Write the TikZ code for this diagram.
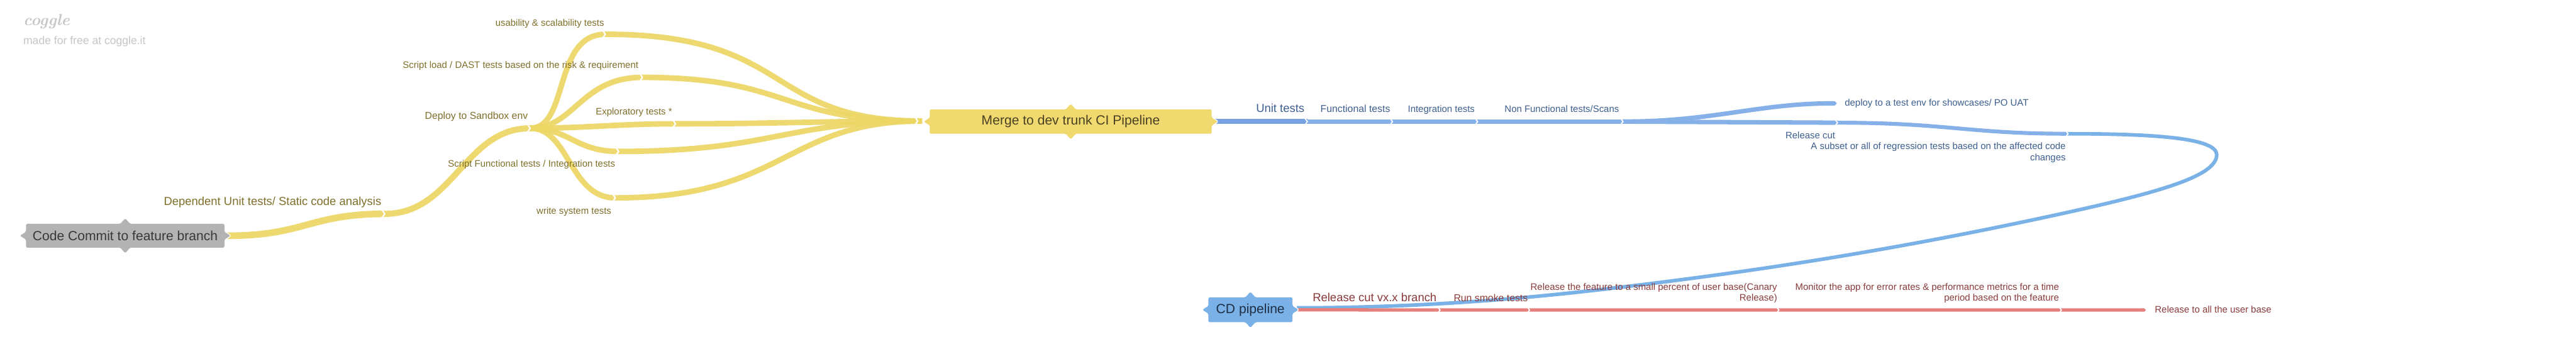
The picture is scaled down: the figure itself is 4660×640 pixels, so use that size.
\documentclass[tikz,border=0pt]{standalone}
\usepackage{fontspec}
\setsansfont{Liberation Sans}
\renewcommand{\familydefault}{\sfdefault}
\usetikzlibrary{backgrounds,arrows.meta}
\definecolor{ybr}{HTML}{ECD664}
\definecolor{yfill}{HTML}{F0D96F}
\definecolor{ytext}{HTML}{7F6F2A}
\definecolor{mgtext}{HTML}{4A4222}
\definecolor{ccfill}{HTML}{B3B3B3}
\definecolor{cctext}{HTML}{383838}
\definecolor{bbr}{HTML}{86B0E8}
\definecolor{bbrd}{HTML}{78A3E2}
\definecolor{bfill}{HTML}{7AB1E6}
\definecolor{btext}{HTML}{3D5E8E}
\definecolor{cdtext}{HTML}{1F2F45}
\definecolor{rbr}{HTML}{E6807C}
\definecolor{rtext}{HTML}{8A3A3A}
\definecolor{logogrey}{HTML}{C6C6C6}
\newcommand{\rootshape}[2]{%
  \path[fill=#2, rounded corners=2pt, preaction={draw=white, line width=3pt}]
   (#1.north west) -- ([xshift=-9pt]#1.north) -- ([yshift=10pt]#1.north) -- ([xshift=9pt]#1.north)
   -- (#1.north east) -- ([yshift=7pt]#1.east) -- ([xshift=11pt]#1.east) -- ([yshift=-7pt]#1.east)
   -- (#1.south east) -- ([xshift=9pt]#1.south) -- ([yshift=-10pt]#1.south) -- ([xshift=-9pt]#1.south)
   -- (#1.south west) -- ([yshift=-7pt]#1.west) -- ([xshift=-11pt]#1.west) -- ([yshift=7pt]#1.west) -- cycle;}
\begin{document}
\begin{tikzpicture}[x=1pt, y=-1pt,
  yb/.style={draw=ybr, line width=#1, draw opacity=0.92},
  bb/.style={draw=bbr, line width=#1},
  rb/.style={draw=rbr, line width=6pt},
  rootbox/.style={rectangle, inner sep=0pt, outer sep=0pt, font=\fontsize{24}{28}\selectfont},
  lab/.style={inner sep=0pt, font=\fontsize{17}{20}\selectfont},
  big/.style={font=\fontsize{21}{25}\selectfont},
  mid/.style={font=\fontsize{18}{21}\selectfont},
  chev/.pic={\draw[white, line width=2.5pt, line join=miter] (-5,-7.5) -- (0,0) -- (-5,7.5);},
  chevs/.pic={\draw[white, line width=2pt, line join=miter] (-4,-5.5) -- (0,0) -- (-4,5.5);}
]
\useasboundingbox (0,0) rectangle (4660,640);

% root nodes (text; shapes drawn on background layer)
\node[rootbox, minimum width=359pt, minimum height=43pt, text=cctext] (cc) at (226.5,426.5) {Code Commit to feature branch};
\node[rootbox, minimum width=510pt, minimum height=44pt, text=mgtext] (mg) at (1937,220) {Merge to dev trunk CI Pipeline};
\node[rootbox, minimum width=152pt, minimum height=45pt, text=cdtext] (cd) at (2262,560.5) {CD pipeline};

% junction coordinates
\coordinate (j1) at (696,387);
\coordinate (j2) at (959,232);
\coordinate (lu) at (1095,62);
\coordinate (ls) at (1162,140);
\coordinate (le) at (1222,224);
\coordinate (lf) at (1119,274);
\coordinate (lw) at (1113,358);
\coordinate (mi) at (1668,219);
\coordinate (mc) at (1660,219);
\coordinate (b1) at (2365,220);
\coordinate (b2) at (2519,220);
\coordinate (b3) at (2673,220);
\coordinate (b4) at (2936,220);
\coordinate (bd) at (3323,187);
\coordinate (br) at (3324,222);
\coordinate (bs) at (3741,242);
\coordinate (lp1) at (4010,280);
\coordinate (lp2) at (3700,393);
\coordinate (lp3) at (2921,521);
\coordinate (cdin) at ([shift={(8pt,3.5pt)}]cd.east);
\coordinate (r1) at (2605,561);
\coordinate (r2) at (2767,561);
\coordinate (r3) at (3218,561);
\coordinate (r4) at (3729,561);
\coordinate (r5) at (3882,561);

\begin{scope}[on background layer]
\fill[white] (0,0) rectangle (4660,640);
% yellow branches
\draw[yb=12pt] ([xshift=4pt]cc.east) .. controls (550,427) and (560,387) .. (j1);
\draw[yb=11pt] (j1) .. controls (820,387) and (840,232) .. (j2);
\draw[yb=10pt] (j2) .. controls (1030,232) and (1000,62) .. (lu);
\draw[yb=10pt] (j2) .. controls (1040,232) and (1050,140) .. (ls);
\draw[yb=10pt] (j2) .. controls (1060,232) and (1120,224) .. (le);
\draw[yb=10pt] (j2) .. controls (1030,232) and (1040,274) .. (lf);
\draw[yb=10pt] (j2) .. controls (1030,232) and (1030,358) .. (lw);
\draw[yb=10pt] (lu) .. controls (1440,62) and (1380,219) .. (mi);
\draw[yb=10pt] (ls) .. controls (1430,140) and (1410,219) .. (mi);
\draw[yb=10pt] (le) .. controls (1400,224) and (1500,219) .. (mi);
\draw[yb=10pt] (lf) .. controls (1400,274) and (1420,219) .. (mi);
\draw[yb=10pt] (lw) .. controls (1420,358) and (1420,219) .. (mi);
% blue branches
\draw[bb=9pt, draw=bbrd] ([xshift=4pt]mg.east) -- (b1);
\draw[bb=8pt] (b1) -- (b2) -- (b3) -- (b4);
\draw[bb=8pt, -{Triangle Cap}] (b4) .. controls (3100,220) and (3180,187) .. (bd);
\draw[bb=8pt] (b4) -- (br);
\draw[bb=7pt] (br) .. controls (3520,222) and (3560,242) .. (bs);
\draw[bb=6.5pt, draw=bfill] (bs) .. controls (3900,242) and (4010,250) .. (lp1)
   .. controls (4010,320) and (3900,350) .. (lp2)
   .. controls (3400,457.5) and (3150,494) .. (lp3)
   .. controls (2750,541.5) and (2560,557) .. (cdin);
% red branches
\draw[rb, -{Triangle Cap}] ([xshift=4pt]cd.east) -- (r1) -- (r2) -- (r3) -- (r4) -- (r5);
% chevrons
\foreach \p in {j1,j2,lu,ls,le,lf,lw,mc} \pic at (\p) {chev};
\foreach \p in {b1,b2,b3,b4,br,bs,r1,r2,r3,r4} \pic at (\p) {chevs};
% root shapes
\rootshape{cc}{ccfill}
\rootshape{mg}{yfill}
\rootshape{cd}{bfill}
\end{scope}

% logo
\node[inner sep=0pt, anchor=base west, text=logogrey, font=\rmfamily\bfseries\itshape\fontsize{29}{33}\selectfont] (logo) at (42,46) {coggle};
\node[inner sep=0pt, anchor=base west, text=logogrey, font=\fontsize{20}{24}\selectfont] (made) at (42,80) {made for free at coggle.it};

% yellow labels
\node[lab, big, text=ytext, anchor=base east] (tdep) at (690,371) {Dependent Unit tests/ Static code analysis};
\node[lab, mid, text=ytext, anchor=base east] (tsbx) at (955,216) {Deploy to Sandbox env};
\node[lab, text=ytext, anchor=base east] (tusa) at (1093,47) {usability \& scalability tests};
\node[lab, text=ytext, anchor=base east] (tsld) at (1155,124) {Script load / DAST tests based on the risk \& requirement};
\node[lab, text=ytext, anchor=base east] (texp) at (1216,208) {Exploratory tests *};
\node[lab, text=ytext, anchor=base east] (tsft) at (1113,302) {Script Functional tests / Integration tests};
\node[lab, text=ytext, anchor=base east] (twst) at (1106,387) {write system tests};

% blue labels
\node[lab, big, text=btext, anchor=base east] (tut) at (2360,203) {Unit tests};
\node[lab, mid, text=btext, anchor=base east] (tft) at (2515,203) {Functional tests};
\node[lab, text=btext, anchor=base east] (tit) at (2668,203) {Integration tests};
\node[lab, text=btext, anchor=base east] (tnf) at (2929,203) {Non Functional tests/Scans};
\node[lab, text=btext, anchor=base west] (tdp) at (3337,192) {deploy to a test env for showcases/ PO UAT};
\node[lab, text=btext, anchor=base east] (trc) at (3320,251) {Release cut};
\node[lab, text=btext, anchor=north east, align=right] (tss) at (3737,258) {A subset or all of regression tests based on the affected code\\changes};

% red labels
\node[lab, big, text=rtext, anchor=base east] (trv) at (2599,545) {Release cut vx.x branch};
\node[lab, mid, text=rtext, anchor=base east] (trs) at (2764,545) {Run smoke tests};
\node[lab, text=rtext, anchor=north east, align=right] (trf) at (3215,512) {Release the feature to a small percent of user base(Canary\\Release)};
\node[lab, text=rtext, anchor=north east, align=right] (trm) at (3725,512) {Monitor the app for error rates \& performance metrics for a time\\period based on the feature};
\node[lab, text=rtext, anchor=base west] (tra) at (3898,566) {Release to all the user base};
\end{tikzpicture}
\end{document}
